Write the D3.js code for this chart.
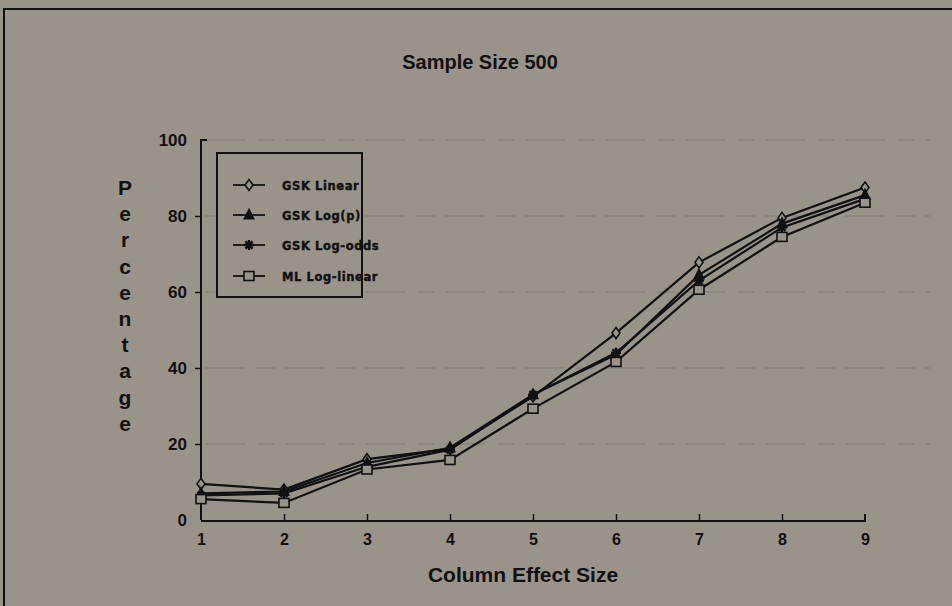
<!DOCTYPE html>
<html><head><meta charset="utf-8">
<script src="https://cdn.jsdelivr.net/npm/d3@7"></script>
<style>html,body{margin:0;padding:0;background:#9a9389;}svg{display:block;}</style>
</head><body><svg id="c" width="952" height="606"></svg>
<script>
const effectSizes = [1,2,3,4,5,6,7,8,9];
const gskLinear  = [9.5, 8.0, 16.0, 18.7, 32.5, 49.2, 67.8, 79.5, 87.5];
const gskLogP    = [7.0, 7.5, 15.0, 19.0, 33.0, 43.5, 64.5, 78.0, 85.5];
const gskLogOdds = [6.5, 7.0, 14.0, 18.5, 33.0, 44.0, 63.0, 77.0, 84.5];
const mlLogLin   = [5.5, 4.5, 13.3, 15.8, 29.3, 41.6, 60.6, 74.5, 83.5];
const yTicks = [0,20,40,60,80,100];
const seriesNames = ["GSK Linear","GSK Log(p)","GSK Log-odds","ML Log-linear"];
const seriesMarkers = ["diamond","triangle","star","square"];
const seriesValues = [gskLinear, gskLogP, gskLogOdds, mlLogLin];

const bg = "#9a9389", ink = "#111";
const svg = d3.select("#c");
svg.append("rect").attr("width",952).attr("height",606).attr("fill",bg);
// frame (top + left)
svg.append("path").attr("d","M4,606 L4,9 L952,9").attr("fill","none").attr("stroke",ink).attr("stroke-width",2);

const x = d3.scaleLinear().domain([1,9]).range([201,865]);
const y = d3.scaleLinear().domain([0,100]).range([520,140]);

// faint dashed gridlines
svg.append("g").selectAll("line").data(yTicks.filter(d=>d>0)).join("line")
  .attr("x1",205).attr("x2",930).attr("y1",d=>y(d)).attr("y2",d=>y(d))
  .attr("stroke","#878177").attr("stroke-width",2).attr("stroke-dasharray","40,12,18,10")
  .attr("opacity",0.6);

// title
svg.append("text").attr("x",480).attr("y",69).attr("text-anchor","middle")
  .attr("font-family","Liberation Sans, Arial, sans-serif").attr("font-weight","bold")
  .attr("font-size",20).attr("fill",ink).text("Sample Size 500");

// y axis
const yAxis = d3.axisLeft(y).tickValues(yTicks).tickSize(6).tickPadding(8).tickFormat(d3.format("d"));
const gy = svg.append("g").attr("transform","translate(201,0)").call(yAxis);
gy.select(".domain").attr("d","M0,520 V140 H6").attr("stroke",ink).attr("stroke-width",2).attr("fill","none");
gy.selectAll(".tick line").attr("stroke",ink).attr("stroke-width",1.5);
gy.selectAll(".tick").filter(d=>d===0||d===100).select("line").remove();
gy.selectAll("text").attr("font-family","Liberation Sans, Arial, sans-serif").attr("font-weight","bold")
  .attr("font-size",17).attr("fill",ink);

// x axis
const xAxis = d3.axisBottom(x).tickValues(effectSizes).tickSize(-7).tickPadding(13).tickFormat(d3.format("d"));
const gx = svg.append("g").attr("transform","translate(0,521)").call(xAxis);
gx.select(".domain").attr("d","M201,0 H865 V-7").attr("stroke",ink).attr("stroke-width",2).attr("fill","none");
gx.selectAll(".tick line").attr("stroke",ink).attr("stroke-width",1.5);
gx.selectAll(".tick").filter(d=>d===1||d===9).select("line").remove();
gx.selectAll("text").attr("font-family","Liberation Sans, Arial, sans-serif").attr("font-weight","bold")
  .attr("font-size",16).attr("fill",ink);

// axis titles
svg.append("text").attr("x",523).attr("y",582).attr("text-anchor","middle")
  .attr("font-family","Liberation Sans, Arial, sans-serif").attr("font-weight","bold")
  .attr("font-size",21).attr("fill",ink).text("Column Effect Size");
const yTitle = "Percentage".split("");
svg.append("g").selectAll("text").data(yTitle).join("text")
  .attr("x",125).attr("y",(d,i)=>195+i*26.2).attr("text-anchor","middle")
  .attr("font-family","Liberation Sans, Arial, sans-serif").attr("font-weight","bold")
  .attr("font-size",21).attr("fill",ink).text(d=>d);

// markers
d3.symbolAsterisk = {draw(ctx,size){const r=Math.sqrt(size)/2;for(let k=0;k<4;k++){const a=k*Math.PI/4;ctx.moveTo(-r*Math.cos(a),-r*Math.sin(a));ctx.lineTo(r*Math.cos(a),r*Math.sin(a));}}};
function marker(g, type, cx, cy){
  if(type==="diamond"){
    g.append("path").attr("d",`M${cx},${cy-5.5} L${cx+4},${cy} L${cx},${cy+5.5} L${cx-4},${cy} Z`)
      .attr("fill",bg).attr("stroke",ink).attr("stroke-width",1.6);
  } else if(type==="triangle"){
    g.append("path").attr("d",`M${cx},${cy-6} L${cx+5},${cy+4} L${cx-5},${cy+4} Z`)
      .attr("fill",ink).attr("stroke",ink).attr("stroke-width",1.2);
  } else if(type==="star"){
    g.append("path").attr("d",d3.symbol().type(d3.symbolAsterisk).size(100)())
      .attr("transform",`translate(${cx},${cy})`).attr("fill","none").attr("stroke",ink).attr("stroke-width",2.4);
  } else {
    g.append("rect").attr("x",cx-5).attr("y",cy-4.5).attr("width",10).attr("height",9)
      .attr("fill",bg).attr("stroke",ink).attr("stroke-width",1.6);
  }
}

const line = d3.line().x((d,i)=>x(effectSizes[i])).y(d=>y(d));
const plot = svg.append("g");
seriesValues.forEach((vals,si)=>{
  plot.append("path").datum(vals).attr("d",line).attr("fill","none").attr("stroke",ink).attr("stroke-width",2.2);
});
seriesValues.forEach((vals,si)=>{
  const g = plot.append("g");
  vals.forEach((v,i)=>marker(g, seriesMarkers[si], x(effectSizes[i]), y(v)));
});

// legend
const lg = svg.append("g");
lg.append("rect").attr("x",217).attr("y",153).attr("width",145).attr("height",144)
  .attr("fill",bg).attr("stroke",ink).attr("stroke-width",2);
const legendY = [185,215,245,276];
seriesNames.forEach((n,i)=>{
  const yy = legendY[i];
  lg.append("line").attr("x1",233).attr("x2",265).attr("y1",yy).attr("y2",yy).attr("stroke",ink).attr("stroke-width",1.8);
  marker(lg, seriesMarkers[i], 249, yy);
  lg.append("text").attr("x",282).attr("y",yy+4.5)
    .attr("font-family","DejaVu Sans, sans-serif").attr("font-weight","bold")
    .attr("font-size",11.5).attr("letter-spacing",0.6).attr("stroke",ink).attr("stroke-width",0.4)
    .attr("fill",ink).text(n);
});
</script>
</body></html>
